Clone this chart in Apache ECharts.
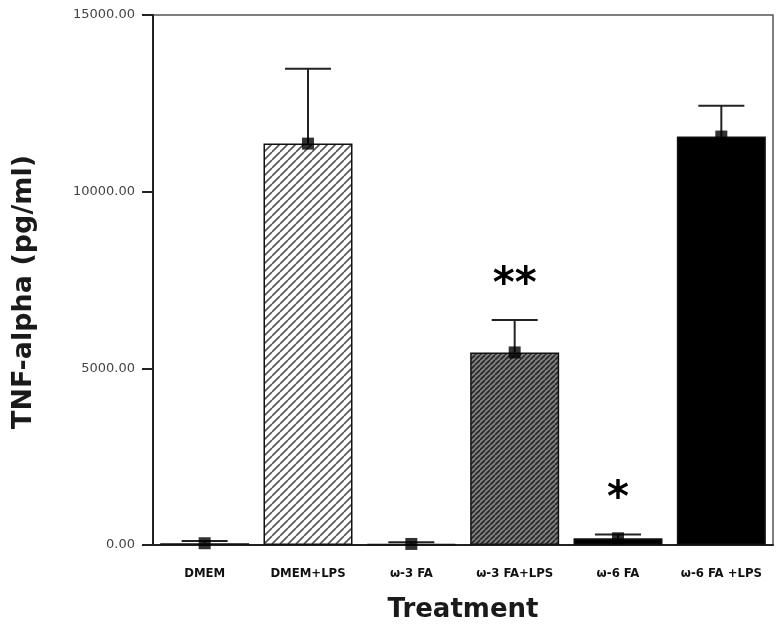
<!DOCTYPE html>
<html>
<head>
<meta charset="utf-8">
<script src="https://cdn.jsdelivr.net/npm/echarts@6/dist/echarts.min.js"></script>
<style>
  html, body { margin: 0; padding: 0; background: #fff; }
  #chart { width: 783px; height: 628px; }
</style>
</head>
<body>
<div id="chart"></div>
<script>
// data
const categories = ['DMEM', 'DMEM+LPS', 'ω-3 FA', 'ω-3 FA+LPS', 'ω-6 FA', 'ω-6 FA +LPS'];
const means = [50, 11360, 30, 5450, 190, 11560];
const sds = [60, 2120, 45, 920, 110, 870];
const sigMarks = ['', '', '', '**', '*', ''];
const yMin = 0;
const yMax = 15000;
const yStep = 5000;

// hatch tiles for the bars
function hatch(size, bg, fg, width) {
    const c = document.createElement('canvas');
    c.width = size;
    c.height = size;
    const ctx = c.getContext('2d');
    ctx.fillStyle = bg;
    ctx.fillRect(0, 0, size, size);
    ctx.strokeStyle = fg;
    ctx.lineWidth = width;
    ctx.beginPath();
    for (let k = -1; k <= 1; k++) {
        ctx.moveTo(k * size, size);
        ctx.lineTo(k * size + size, 0);
    }
    ctx.stroke();
    return { image: c, repeat: 'repeat' };
}

const fills = [
    '#ffffff',
    hatch(8, '#ffffff', '#555555', 1.6),
    '#777777',
    hatch(5, '#808080', '#262626', 1.6),
    '#000000',
    '#000000'
];

const chart = echarts.init(document.getElementById('chart'));

function renderErr(params, api) {
    const i = api.value(0);
    const m = api.value(1);
    const s = api.value(2);
    const base = api.coord([i, m]);
    const top = api.coord([i, m + s]);
    const half = 23;
    const style = { stroke: '#222', lineWidth: 2 };
    const children = [
        { type: 'line', shape: { x1: base[0], y1: base[1], x2: top[0], y2: top[1] }, style: style },
        { type: 'line', shape: { x1: top[0] - half, y1: top[1], x2: top[0] + half, y2: top[1] }, style: style }
    ];
    const sig = sigMarks[params.dataIndex];
    if (sig) {
        children.push({
            type: 'text',
            x: top[0],
            y: top[1] - 34,
            style: {
                text: sig,
                fill: '#000',
                font: 'bold 42px "DejaVu Sans"',
                align: 'center',
                verticalAlign: 'middle'
            }
        });
    }
    return { type: 'group', children: children };
}

chart.setOption({
    animation: false,
    backgroundColor: '#fff',
    grid: {
        left: 153,
        right: 10,
        top: 15,
        bottom: 82,
        show: true,
        borderColor: '#555',
        borderWidth: 1.5
    },
    xAxis: {
        type: 'category',
        data: categories,
        name: 'Treatment',
        nameLocation: 'middle',
        nameGap: 52,
        nameTextStyle: {
            fontFamily: 'DejaVu Sans',
            fontWeight: 'bold',
            fontSize: 26,
            color: '#1a1a1a'
        },
        axisLine: { lineStyle: { color: '#222', width: 2 } },
        axisTick: { alignWithLabel: true, length: 10, lineStyle: { color: '#222', width: 2 } },
        axisLabel: {
            margin: 22,
            interval: 0,
            fontFamily: 'DejaVu Sans Condensed',
            fontWeight: 'bold',
            fontSize: 13,
            color: '#111'
        }
    },
    yAxis: {
        type: 'value',
        min: yMin,
        max: yMax,
        interval: yStep,
        name: 'TNF-alpha (pg/ml)',
        nameLocation: 'middle',
        nameGap: 116,
        nameTextStyle: {
            fontFamily: 'DejaVu Sans',
            fontWeight: 'bold',
            fontSize: 27,
            color: '#1a1a1a',
            padding: [0, 24, 0, 0]
        },
        splitLine: { show: false },
        axisLine: { show: true, lineStyle: { color: '#222', width: 2 } },
        axisTick: { show: true, length: 11, lineStyle: { color: '#222', width: 2 } },
        axisLabel: {
            margin: 18,
            fontFamily: 'DejaVu Sans',
            fontSize: 13,
            color: '#444',
            formatter: v => v.toFixed(2)
        }
    },
    series: [
        {
            type: 'bar',
            barWidth: 89,
            data: means.map((v, i) => ({
                value: v,
                itemStyle: { color: fills[i] }
            })),
            itemStyle: { borderColor: '#111', borderWidth: 1.5 },
            z: 2
        },
        {
            type: 'custom',
            renderItem: renderErr,
            data: categories.map((c, i) => [i, means[i], sds[i]]),
            encode: { x: 0, y: 1 },
            z: 3
        },
        {
            type: 'scatter',
            symbol: 'rect',
            symbolSize: 12,
            itemStyle: { color: '#000' },
            data: means,
            z: 4
        }
    ]
});
</script>
</body>
</html>
